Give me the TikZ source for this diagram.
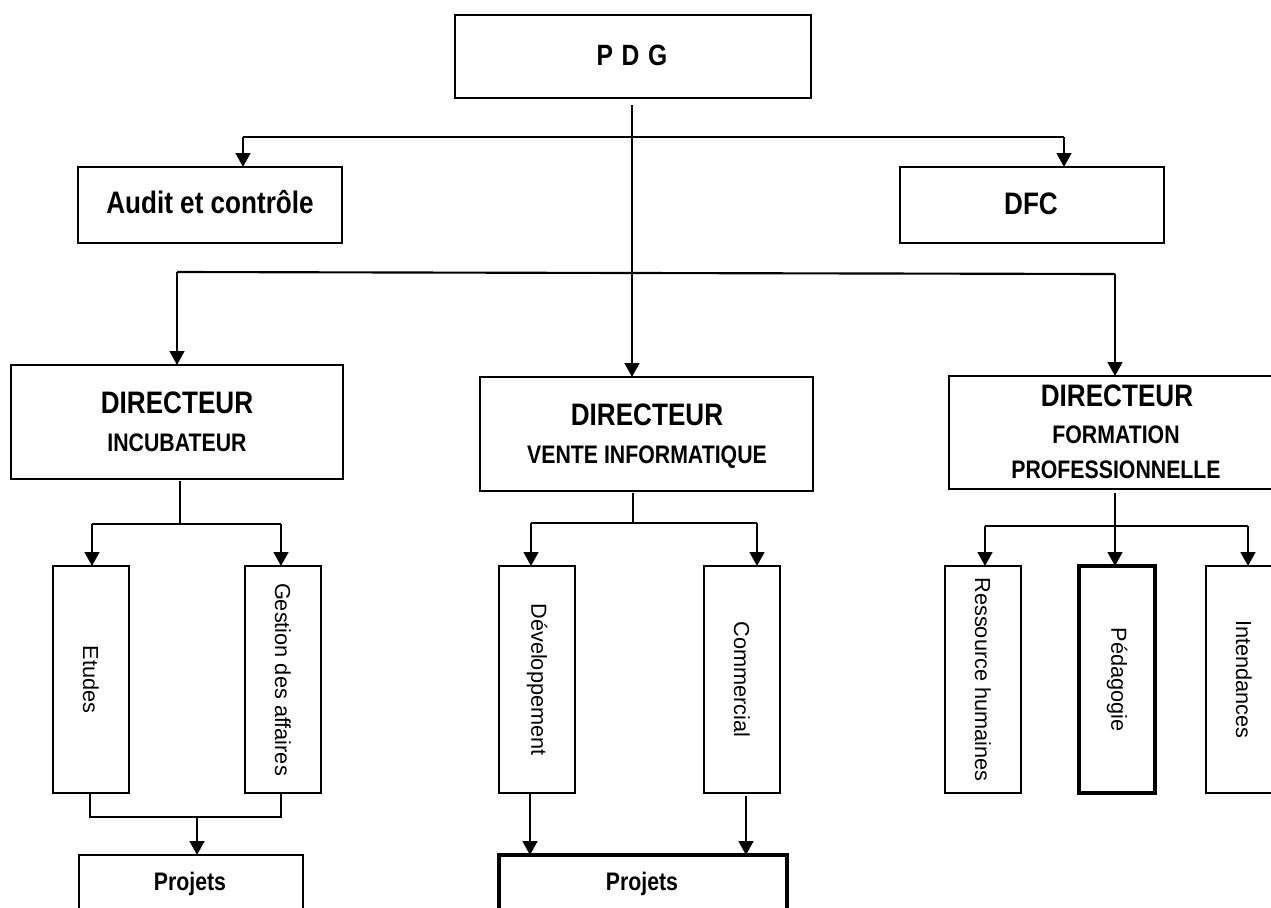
\documentclass[tikz,border=0pt]{standalone}
\usepackage{fontspec}
\setmainfont{Liberation Sans}
\newfontfamily\narrowfont[FakeStretch=0.84]{Liberation Sans}
\usetikzlibrary{arrows.meta}

\tikzset{
  box/.style={draw, line width=0.9pt, inner sep=0pt, outer sep=0pt},
  thickbox/.style={box, line width=2.3pt},
  head/.style={font=\narrowfont\bfseries\fontsize{23.3pt}{28pt}\selectfont, anchor=base, inner sep=0pt},
  subhead/.style={font=\narrowfont\bfseries\fontsize{19pt}{23pt}\selectfont, anchor=base, inner sep=0pt},
  vtext/.style={font=\fontsize{16.3pt}{20pt}\selectfont, rotate=-90, inner sep=0pt},
  stem/.style={line width=0.8pt},
  bar/.style={line width=1.6pt},
  link/.style={line width=1pt},
  arrowline/.style={line width=2pt, -{Triangle[length=10.5pt,width=11pt]}},
}

\begin{document}
\begin{tikzpicture}[x=0.75pt, y=-0.75pt]
\useasboundingbox (0,0) rectangle (1271,907);
\fill[white] (0,0) rectangle (1271,907);
\clip (0,0) rectangle (1271,907);

% ---- boxes ----
\node[box, minimum width=267pt, minimum height=62.25pt] (pdg) at (633,56.5) {};
\node[box, minimum width=198pt, minimum height=57pt] (audit) at (210,205) {};
\node[box, minimum width=198pt, minimum height=57pt] (dfc) at (1032,205) {};

\node[box, minimum width=249pt, minimum height=85.5pt] (inc) at (177,422) {};
\node[box, minimum width=249.75pt, minimum height=85.5pt] (vente) at (646.5,434) {};
\node[box, minimum width=250.5pt, minimum height=84.75pt] (form) at (1116,432.5) {};

\node[box, minimum width=57pt, minimum height=170.25pt] (etudes) at (91,679.5) {};
\node[box, minimum width=57pt, minimum height=170.25pt] (gestion) at (283,679.5) {};
\node[box, minimum width=57pt, minimum height=170.25pt] (dev) at (537,679.5) {};
\node[box, minimum width=57pt, minimum height=170.25pt] (comm) at (742,679.5) {};
\node[box, minimum width=57pt, minimum height=170.25pt] (rh) at (983,679.5) {};
\node[thickbox, minimum width=57pt, minimum height=170.25pt] (peda) at (1117,679.5) {};
\node[box, minimum width=57pt, minimum height=170.25pt] (intend) at (1244,679.5) {};

\node[box, minimum width=168pt, minimum height=56.25pt] (proj1) at (191,892.5) {};
\node[thickbox, minimum width=216pt, minimum height=56.25pt] (proj2) at (643,892.5) {};

% ---- texts ----
\node[head, font=\narrowfont\bfseries\fontsize{22pt}{26pt}\selectfont] (pdg-t) at (632,65) {\spaceskip=6.5pt P D G};
\node[head] (audit-t) at (210,213) {Audit et contrôle};
\node[head] (dfc-t) at (1031,214) {DFC};

\node[head] (inc-t1) at (177,413) {DIRECTEUR};
\node[subhead] (inc-t2) at (177,451) {INCUBATEUR};

\node[head] (vente-t1) at (647,425) {DIRECTEUR};
\node[subhead] (vente-t2) at (647,463) {VENTE INFORMATIQUE};

\node[head] (form-t1) at (1117,406) {DIRECTEUR};
\node[subhead] (form-t2) at (1116,443) {FORMATION};
\node[subhead] (form-t3) at (1116,478) {PROFESSIONNELLE};

\node[vtext] (etudes-t) at (etudes.center) {Etudes};
\node[vtext] (gestion-t) at (gestion.center) {Gestion des affaires};
\node[vtext] (dev-t) at (dev.center) {Développement};
\node[vtext] (comm-t) at (comm.center) {Commercial};
\node[vtext] (rh-t) at (rh.center) {Ressource humaines};
\node[vtext] (peda-t) at (peda.center) {Pédagogie};
\node[vtext] (intend-t) at (intend.center) {Intendances};

\node[subhead] (proj1-t) at (190,890) {Projets};
\node[subhead] (proj2-t) at (642,890) {Projets};

% ---- junction points ----
\coordinate (j0) at (632,105);
\coordinate (j1L) at (243,137);
\coordinate (j1R) at (1064,137);
\coordinate (j2L) at (177,272);
\coordinate (j2M) at (632,273);
\coordinate (j2R) at (1115,274);

\coordinate (k0) at (180,481);
\coordinate (kM) at (180,524);
\coordinate (kL) at (92,524);
\coordinate (kR) at (281,524);

\coordinate (v0) at (633,493);
\coordinate (vM) at (633,523);
\coordinate (vL) at (531,523);
\coordinate (vR) at (757,523);

\coordinate (f0) at (1115,493);
\coordinate (fM) at (1115,526);
\coordinate (fL) at (985,526);
\coordinate (fR) at (1248,526);

\coordinate (eB) at (90,817);
\coordinate (gB) at (281,817);
\coordinate (pj) at (197,816);
\coordinate (dA) at (530,793);
\coordinate (cA) at (746,796);

% ---- connectors: PDG level ----
\draw[stem] (j0) -- (j2M);
\draw[bar] (j1L) -- (j1R);
\draw[arrowline] (j1L) -- (j1L |- audit.north);
\draw[arrowline] (j1R) -- (j1R |- dfc.north);

\draw[bar] (j2L) -- (j2M) -- (j2R);
\draw[arrowline] (j2L) -- (j2L |- inc.north);
\draw[arrowline] (j2M) -- (j2M |- vente.north);
\draw[arrowline] (j2R) -- (j2R |- form.north);

% ---- connectors: directors to services ----
\draw[stem] (k0) -- (kM);
\draw[bar] (kL) -- (kR);
\draw[arrowline] (kL) -- (kL |- etudes.north);
\draw[arrowline] (kR) -- (kR |- gestion.north);

\draw[stem] (v0) -- (vM);
\draw[bar] (vL) -- (vR);
\draw[arrowline] (vL) -- (vL |- dev.north);
\draw[arrowline] (vR) -- (vR |- comm.north);

\draw[stem] (f0) -- (fM);
\draw[bar] (fL) -- (fR);
\draw[arrowline] (fL) -- (fL |- rh.north);
\draw[arrowline] (fM) -- (fM |- peda.north);
\draw[arrowline] (fR) -- (fR |- intend.north);

% ---- connectors: services to projects ----
\draw[link] (eB |- etudes.south) -- (eB) -- (gB) -- (gB |- gestion.south);
\draw[arrowline] (pj) -- (pj |- proj1.north);
\draw[arrowline] (dA) -- (dA |- proj2.north);
\draw[arrowline] (cA) -- (cA |- proj2.north);
\end{tikzpicture}
\end{document}
